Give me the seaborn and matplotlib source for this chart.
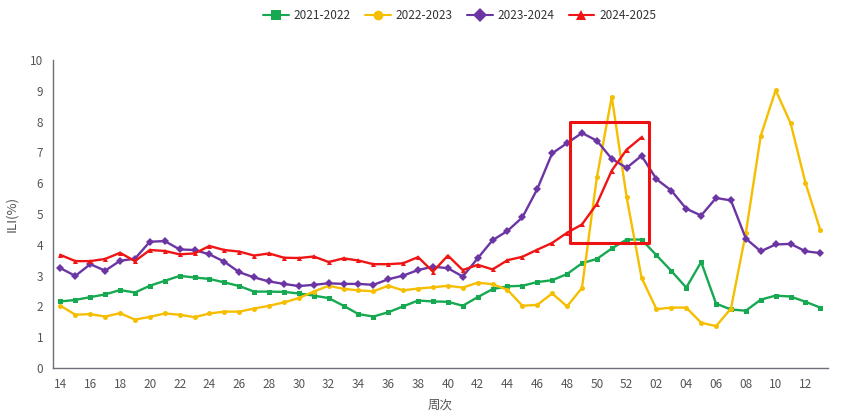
import numpy as np
import pandas as pd
import matplotlib
matplotlib.use("Agg")
import matplotlib.pyplot as plt
import seaborn as sns
from matplotlib.patches import Rectangle

# week labels: 14..52 then 01..13
weeks = [f"{w:02d}" for w in list(range(14, 53)) + list(range(1, 14))]

s2122 = [2.16, 2.21, 2.30, 2.39, 2.53, 2.45, 2.67, 2.83, 2.99, 2.94, 2.89, 2.78, 2.66,
         2.48, 2.48, 2.47, 2.42, 2.35, 2.27, 2.02, 1.75, 1.67, 1.81, 2.00, 2.19, 2.16,
         2.15, 2.02, 2.30, 2.56, 2.65, 2.67, 2.79, 2.85, 3.05, 3.40, 3.54, 3.88, 4.17,
         4.17, 3.66, 3.15, 2.61, 3.44, 2.09, 1.90, 1.86, 2.22, 2.35, 2.32, 2.15, 1.96]
s2223 = [2.02, 1.73, 1.75, 1.67, 1.78, 1.57, 1.66, 1.77, 1.73, 1.65, 1.77, 1.83, 1.83,
         1.93, 2.02, 2.13, 2.27, 2.48, 2.67, 2.57, 2.52, 2.49, 2.67, 2.52, 2.58, 2.62,
         2.67, 2.61, 2.77, 2.72, 2.54, 2.02, 2.05, 2.42, 2.00, 2.60, 6.19, 8.81, 5.54,
         2.93, 1.91, 1.96, 1.96, 1.47, 1.36, 1.93, 4.39, 7.54, 9.02, 7.95, 6.01, 4.47]
s2324 = [3.24, 2.99, 3.37, 3.16, 3.48, 3.55, 4.10, 4.12, 3.85, 3.83, 3.69, 3.45, 3.11,
         2.94, 2.81, 2.73, 2.66, 2.70, 2.75, 2.73, 2.73, 2.70, 2.88, 3.00, 3.18, 3.29,
         3.24, 2.97, 3.56, 4.15, 4.45, 4.89, 5.81, 6.97, 7.30, 7.63, 7.38, 6.79, 6.50,
         6.89, 6.13, 5.76, 5.17, 4.95, 5.52, 5.44, 4.20, 3.79, 4.01, 4.03, 3.79, 3.73]
s2425 = [3.67, 3.47, 3.47, 3.54, 3.74, 3.47, 3.83, 3.80, 3.69, 3.72, 3.96, 3.83, 3.78,
         3.65, 3.72, 3.58, 3.57, 3.62, 3.44, 3.56, 3.49, 3.37, 3.37, 3.40, 3.60, 3.13,
         3.65, 3.18, 3.35, 3.20, 3.50, 3.61, 3.84, 4.06, 4.39, 4.66, 5.33, 6.41, 7.09,
         7.49]

seasons = ["2021-2022", "2022-2023", "2023-2024", "2024-2025"]
series = [s2122, s2223, s2324, s2425]
colors = ["#17a852", "#f6be00", "#6b35a3", "#f01414"]
marker_styles = ["s", "o", "D", "^"]

rows = []
for name, vals in zip(seasons, series):
    for i, v in enumerate(vals):
        rows.append({"idx": i, "ili": v, "season": name})
df = pd.DataFrame(rows)

# highlight box (data coords)
box_x0, box_x1 = 34.2, 39.5
box_y0, box_y1 = 4.05, 8.0

sns.set_style("white")
plt.rcParams["font.family"] = ["Noto Sans CJK SC", "DejaVu Sans"]

fig = plt.figure(figsize=(8.59, 4.16), dpi=100)
ax = fig.add_axes([0.0617, 0.1154, 0.902, 0.7404])

sns.lineplot(data=df, x="idx", y="ili", hue="season", style="season",
             palette=dict(zip(seasons, colors)),
             markers=dict(zip(seasons, marker_styles)),
             dashes=False, markersize=3.6, markeredgewidth=0,
             linewidth=1.7, ax=ax, legend=False)

ax.add_patch(Rectangle((box_x0, box_y0), box_x1 - box_x0, box_y1 - box_y0,
                       fill=False, edgecolor="#ee1111", linewidth=2.2,
                       joinstyle="round", zorder=5))

ax.set_xlim(-0.5, len(weeks) - 0.5)
ax.set_ylim(0, 10)
ax.set_yticks(range(0, 11))
tick_pos = list(range(0, len(weeks), 2))
ax.set_xticks(tick_pos)
ax.set_xticklabels([weeks[i] for i in tick_pos])

for side in ["top", "right"]:
    ax.spines[side].set_visible(False)
for side in ["left", "bottom"]:
    ax.spines[side].set_color("#6e7079")
    ax.spines[side].set_linewidth(1)
ax.tick_params(axis="both", direction="out", length=4, width=1, color="#6e7079",
               labelsize=8.5, labelcolor="#555555", pad=3)

ax.set_xlabel("周次", fontsize=9, color="#555555", labelpad=6)
ax.set_ylabel("ILI(%)", fontsize=9.5, color="#555555", va="center")
ax.yaxis.set_label_coords(-0.053, 0.5)

handles = [plt.Line2D([], [], color=c, marker=m, markersize=7, linewidth=1.5,
                      markeredgewidth=0) for c, m in zip(colors, marker_styles)]
fig.legend(handles, seasons, loc="center", bbox_to_anchor=(0.535, 0.962), ncol=4,
           frameon=False, fontsize=8.5, handlelength=2.2, columnspacing=1.2,
           handletextpad=0.4, labelcolor="#333333")

fig.savefig("out.png", dpi=100)
